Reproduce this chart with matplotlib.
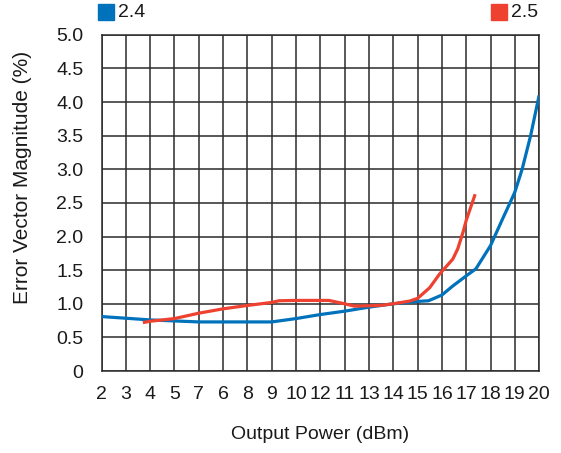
import matplotlib.pyplot as plt
from matplotlib.patches import Rectangle

# positions on the x axis and the labels printed under them (as in the original)
x_pos = list(range(2, 21))
x_labels = ["2", "3", "4", "5", "7", "6", "8", "9", "10", "12", "11",
            "13", "14", "15", "16", "17", "18", "19", "20"]
y_ticks = [0, 0.5, 1.0, 1.5, 2.0, 2.5, 3.0, 3.5, 4.0, 4.5, 5.0]
y_labels = ["0", "0.5", "1.0", "1.5", "2.0", "2.5", "3.0", "3.5", "4.0", "4.5", "5.0"]

# series "2.4"
blue_x = [2, 3, 4, 5, 6, 7, 8, 9, 10, 11, 12, 13, 14, 15, 15.45, 16, 16.45,
          17, 17.4, 18, 18.5, 18.8, 19, 19.3, 19.65, 20]
blue_y = [0.81, 0.785, 0.76, 0.745, 0.73, 0.73, 0.73, 0.73, 0.78, 0.84, 0.89,
          0.95, 1.0, 1.035, 1.045, 1.13, 1.265, 1.415, 1.52, 1.865, 2.265,
          2.5, 2.66, 3.0, 3.5, 4.1]

# series "2.5"
red_x = [3.7, 4, 5, 6, 7, 8, 9, 9.3, 10, 11, 11.35, 12, 12.4, 13, 13.45, 14,
         14.67, 15, 15.5, 15.9, 16.45, 16.65, 16.87, 17, 17.37]
red_y = [0.72, 0.74, 0.78, 0.86, 0.925, 0.975, 1.02, 1.045, 1.05, 1.05, 1.05,
         1.0, 0.965, 0.97, 0.975, 1.0, 1.04, 1.08, 1.24, 1.44, 1.665, 1.815,
         2.065, 2.24, 2.63]

BLUE = "#0072BC"
RED = "#EF4130"
GRID = "#2b2b2b"
TEXT = "#1a1a1a"

plt.rcParams["font.family"] = ["Liberation Sans", "DejaVu Sans"]

fig = plt.figure(figsize=(5.61, 4.53), dpi=100)
ax = fig.add_axes([0.181, 0.181, 0.780, 0.742])

ax.plot(blue_x, blue_y, color=BLUE, lw=2.3, solid_capstyle="butt", zorder=3)
ax.plot(red_x, red_y, color=RED, lw=2.3, solid_capstyle="butt", zorder=4)

ax.set_xlim(2, 20)
ax.set_ylim(0, 5)
ax.set_xticks(x_pos)
ax.set_xticklabels(x_labels)
ax.set_yticks(y_ticks)
ax.set_yticklabels(y_labels)
ax.grid(True, color=GRID, lw=1.1)
ax.tick_params(axis="x", length=0, labelsize=14, colors=TEXT, pad=11)
ax.tick_params(axis="y", length=0, labelsize=14, colors=TEXT, pad=13)
for s in ax.spines.values():
    s.set_color(GRID)
    s.set_linewidth(1.1)

ax.set_xlabel("Output Power (dBm)", fontsize=14, color=TEXT, labelpad=16)
ax.set_ylabel("Error Vector Magnitude (%)", fontsize=15, color=TEXT)
ax.yaxis.set_label_coords(-0.158, 0.575)

# legend squares at the top
fig.add_artist(Rectangle((98 / 561, 1 - 19.5 / 453), 16 / 561, 15 / 453,
                         transform=fig.transFigure, color=BLUE))
fig.text(118 / 561, 1 - 12.5 / 453, "2.4", fontsize=14, va="center", color=TEXT)
fig.add_artist(Rectangle((491 / 561, 1 - 19.5 / 453), 16 / 561, 15 / 453,
                         transform=fig.transFigure, color=RED))
fig.text(511 / 561, 1 - 12.5 / 453, "2.5", fontsize=14, va="center", color=TEXT)

fig.savefig("out.png", dpi=100)
